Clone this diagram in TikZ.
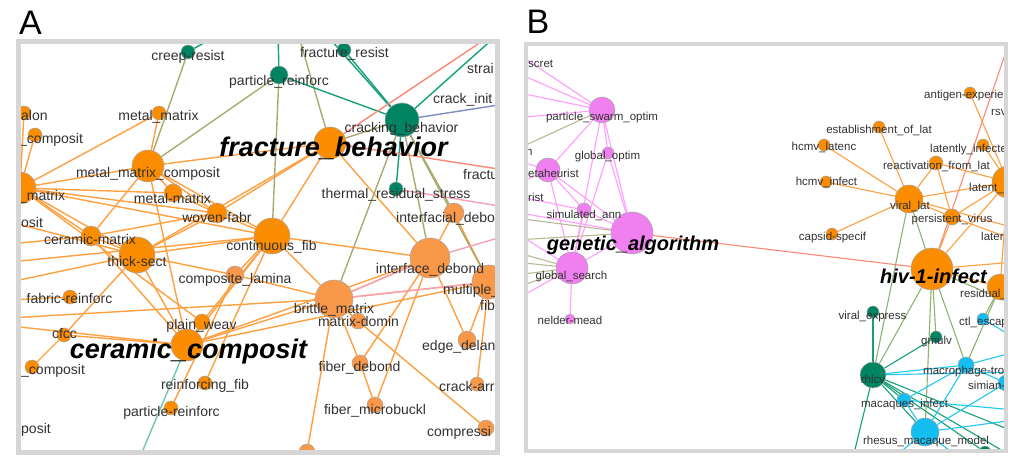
\documentclass[tikz,border=0pt]{standalone}
\usepackage{fontspec}
\setmainfont{Liberation Sans}
\usetikzlibrary{backgrounds}

\definecolor{nodeorange}{RGB}{252,140,0}
\definecolor{nodelight}{RGB}{248,152,72}
\definecolor{nodegreen}{RGB}{0,132,98}
\definecolor{nodepink}{RGB}{240,128,240}
\definecolor{nodecyan}{RGB}{20,190,240}
\definecolor{edgeorange}{RGB}{255,160,65}
\definecolor{edgeolive}{RGB}{170,170,112}
\definecolor{edgeteal}{RGB}{22,160,122}
\definecolor{edgesalmon}{RGB}{250,138,118}
\definecolor{edgepink}{RGB}{246,160,182}
\definecolor{edgeblue}{RGB}{125,140,190}
\definecolor{edgemagenta}{RGB}{255,158,255}
\definecolor{edgegray}{RGB}{185,185,150}
\definecolor{edgegreen}{RGB}{140,180,110}
\definecolor{edgecyan}{RGB}{34,200,240}
\definecolor{framegray}{RGB}{214,214,214}
\definecolor{labelgray}{RGB}{50,50,50}

\tikzset{
  dot/.style={circle, draw=black!35, line width=.5pt, inner sep=0pt},
  onode/.style={dot, fill=nodeorange},
  lnode/.style={dot, fill=nodelight},
  gnode/.style={dot, fill=nodegreen},
  mnode/.style={dot, fill=nodepink},
  cnode/.style={dot, fill=nodecyan},
  oedge/.style={draw=edgeorange, line width=1.4pt},
  gedge/.style={draw=edgeolive, line width=1.4pt},
  tedge/.style={draw=edgeteal, line width=1.4pt},
  sedge/.style={draw=edgesalmon, line width=1.4pt},
  pedge/.style={draw=edgepink, line width=1.4pt},
  bedge/.style={draw=edgeblue, line width=1.4pt},
  medge/.style={draw=edgemagenta, line width=1.1pt},
  yedge/.style={draw=edgegray, line width=1.1pt},
  vedge/.style={draw=edgegreen, line width=1.1pt},
  cedge/.style={draw=edgecyan, line width=1.1pt},
  tA/.style={text=labelgray, inner sep=0pt, text height=10pt, text depth=3pt,
    font=\fontsize{14pt}{16pt}\selectfont},
  tB/.style={text=labelgray, inner sep=0pt, text height=8pt, text depth=2.5pt,
    font=\fontsize{11.5pt}{13pt}\selectfont},
  bigA/.style={text=black, inner sep=0pt, text height=17pt, text depth=5pt,
    font=\fontsize{27pt}{30pt}\selectfont\bfseries\itshape},
  bigB/.style={text=black, inner sep=0pt, text height=14pt, text depth=4pt,
    font=\fontsize{20pt}{22pt}\selectfont\bfseries\itshape},
  panel/.style={font=\fontsize{34pt}{36pt}\selectfont, inner sep=0pt}
}

\begin{document}
\begin{tikzpicture}[x=1pt,y=-1pt]
\useasboundingbox (0,0) rectangle (1017,465);

% panel letters
\node[panel] (pa) at (30.5,22.5) {A};
\node[panel] (pb) at (538,22) {B};

%%%%%%%%%%%%%%%% panel A
\begin{scope}
\clip (21,45) rectangle (495,450);
\node[gnode, minimum size=14] (crp) at (188,52) {};
\node[onode, minimum size=14] (mm1) at (159,113) {};
\node[onode, minimum size=14] (aln) at (24,113) {};
\node[onode, minimum size=14] (cp1) at (35,135) {};
\node[onode, minimum size=32] (mmc) at (148,166) {};
\node[onode, minimum size=32] (lmx) at (20,188) {};
\node[onode, minimum size=18] (mm2) at (173,193) {};
\node[onode, minimum size=20] (wvf) at (217,213) {};
\node[onode, minimum size=20] (cmx) at (91,236) {};
\node[onode, minimum size=36] (tks) at (137,255) {};
\node[onode, minimum size=36] (cfb) at (272,236) {};
\node[lnode, minimum size=18] (clm) at (235,275) {};
\node[onode, minimum size=14] (frr) at (70,297) {};
\node[onode, minimum size=16] (pwv) at (202,322) {};
\node[onode, minimum size=14] (cfc) at (64,335) {};
\node[onode, minimum size=32] (ccm) at (187,345) {};
\node[onode, minimum size=14] (cp2) at (32,367) {};
\node[onode, minimum size=14] (rfb) at (205,383) {};
\node[onode, minimum size=14] (prf) at (171,408) {};
\node[lnode, minimum size=38] (btm) at (334,299) {};
\node[lnode, minimum size=16] (mdm) at (358,321) {};
\node[lnode, minimum size=16] (fbd) at (360,363) {};
\node[lnode, minimum size=16] (fmb) at (375,405) {};
\node[lnode, minimum size=16] (bot) at (307,452) {};
\node[lnode, minimum size=40] (ifd) at (430,258) {};
\node[lnode, minimum size=34] (mlt) at (489,282) {};
\node[lnode, minimum size=18] (edl) at (467,340) {};
\node[lnode, minimum size=14] (cra) at (477,384) {};
\node[lnode, minimum size=16] (cps) at (486,428) {};
\node[lnode, minimum size=20] (ifb) at (454,213) {};
\node[gnode, minimum size=14] (trs) at (396,189) {};
\node[gnode, minimum size=34] (crb) at (402,120) {};
\node[onode, minimum size=32] (frb) at (330,143) {};
\node[gnode, minimum size=14] (fre) at (344,50) {};
\node[gnode, minimum size=18] (pri) at (279,75) {};

\coordinate (tA1) at (216,36);
\coordinate (tA2) at (278,30);
\coordinate (tA3) at (297,30);
\coordinate (tA4) at (322,30);
\coordinate (tA5) at (496,36);
\coordinate (tA6) at (490,36);
\coordinate (rA1) at (505,104);
\coordinate (rA2) at (505,170);
\coordinate (rA3) at (505,207);
\coordinate (rA4) at (505,236);
\coordinate (lA1) at (10,222);
\coordinate (lA2) at (10,244);
\coordinate (lA3) at (10,262);
\coordinate (lA4) at (10,282);
\coordinate (lA5) at (10,300);
\coordinate (lA6) at (10,326);
\coordinate (lA7) at (10,318);
\coordinate (bA1) at (138,462);

\begin{pgfonlayer}{background}
\fill[white] (0,0) rectangle (1017,465);
\begin{scope}
\clip (21,45) rectangle (495,450);
\foreach \a/\b in {mm1/lmx, mm1/mmc, aln/lmx, cp1/lmx, mmc/frb, mmc/lmx, mmc/mm2,
    mmc/wvf, mmc/cmx, mmc/ccm, mmc/cfb, lmx/mm2, lmx/wvf, lmx/cmx, lmx/tks, lmx/cfb,
    lmx/pwv, cmx/tks, cmx/ccm, cmx/wvf, tks/wvf, tks/cfb, tks/clm, tks/ccm, tks/cfc,
    tks/frb, cfc/cp2, cfc/ccm, cfb/frb, cfb/wvf, cfb/pwv, cfb/ccm, cfb/btm, cfb/clm,
    cfb/ifd, wvf/frb, mm2/wvf, clm/btm, pwv/ccm, ccm/btm, ccm/ifd, ccm/mlt, rfb/cfb,
    prf/clm, btm/ifd, btm/mlt, btm/fbd, btm/bot, btm/mdm, mdm/cps, ifd/fbd, ifd/fmb,
    ifd/edl, ifd/ifb, frb/ifd, fbd/fmb, mlt/edl, mlt/cra, ifb/mlt, lA1/tks, lA2/cmx,
    lA3/cfb, lA4/tks, lA5/frr, lA6/ccm, lA7/btm}
  \draw[oedge] (\a) -- (\b);
\foreach \a/\b in {crp/mmc, pri/mmc, pri/cfb, tA3/frb, frb/crb, crb/btm, crb/ifd,
    crb/ifb, crb/mlt}
  \draw[gedge] (\a) -- (\b);
\foreach \a/\b in {crp/tA1, pri/tA2, pri/crb, fre/crb, tA4/crb, crb/tA5, crb/trs}
  \draw[tedge] (\a) -- (\b);
\draw[tedge, draw=edgeteal!60] (ccm) -- (bA1);
\draw[sedge] (frb) -- (tA6);
\draw[sedge] (frb) -- (rA2);
\foreach \a/\b in {trs/rA3, ifd/rA4, btm/ifd, btm/mlt}
  \draw[pedge] (\a) -- (\b);
\draw[bedge] (crb) -- (rA1);
\end{scope}
\end{pgfonlayer}

% labels A
\node[tA] (l-crp) at (188,57) {creep-resist};
\node[tA] (l-mm1) at (158.5,117) {metal\_matrix};
\node[tA, anchor=west] (l-aln) at (21,117) {alon};
\node[tA, anchor=west] (l-cp1) at (19,140) {\_composit};
\node[tA] (l-mmc) at (148,174) {metal\_matrix\_composit};
\node[tA, anchor=west] (l-lmx) at (19,197) {\_matrix};
\node[tA] (l-mm2) at (172.5,200) {metal-matrix};
\node[tA] (l-wvf) at (217,219) {woven-fabr};
\node[tA, anchor=west] (l-os1) at (21,224) {osit};
\node[tA] (l-cmx) at (90,241) {ceramic-matrix};
\node[tA] (l-tks) at (137,263) {thick-sect};
\node[tA] (l-cfb) at (271.5,247) {continuous\_fib};
\node[tA] (l-clm) at (235,280) {composite\_lamina};
\node[tA] (l-frr) at (69.5,300) {fabric-reinforc};
\node[tA] (l-pwv) at (201.5,326) {plain\_weav};
\node[tA] (l-cfc) at (64.5,335) {cfcc};
\node[tA, anchor=west] (l-cp2) at (21,371) {\_composit};
\node[tA] (l-rfb) at (205,386) {reinforcing\_fib};
\node[tA] (l-prf) at (171.5,413) {particle-reinforc};
\node[tA, anchor=west] (l-os2) at (21,430) {posit};
\node[tA] (l-btm) at (334,310) {brittle\_matrix};
\node[tA] (l-mdm) at (358.5,323) {matrix-domin};
\node[tA] (l-fbd) at (359.5,368) {fiber\_debond};
\node[tA] (l-fmb) at (375,411) {fiber\_microbuckl};
\node[tA] (l-ifd) at (430,270) {interface\_debond};
\node[tA, anchor=west] (l-mlt) at (443,291) {multiple\_};
\node[tA, anchor=west] (l-fib) at (480,307) {fib};
\node[tA, anchor=west] (l-edl) at (422,347) {edge\_delan};
\node[tA, anchor=west] (l-cra) at (439,388) {crack-arr};
\node[tA, anchor=west] (l-cps) at (427,433) {compressi};
\node[tA, anchor=west] (l-ifb) at (396,219) {interfacial\_debo};
\node[tA] (l-trs) at (396,195) {thermal\_residual\_stress};
\node[tA, anchor=west] (l-frc) at (463,176) {fractu};
\node[tA] (l-crb) at (401.5,129) {cracking\_behavior};
\node[tA, anchor=west] (l-cri) at (433,100) {crack\_init};
\node[tA, anchor=west] (l-str) at (467,70) {strai};
\node[tA] (l-pri) at (279,82) {particle\_reinforc};
\node[tA] (l-fre) at (344.5,54) {fracture\_resist};
\node[bigA] (l-frb) at (333.5,151) {fracture\_behavior};
\node[bigA] (l-ccm) at (188.5,352.5) {ceramic\_composit};
\end{scope}
\draw[framegray, line width=5pt] (18.5,42) rectangle (497.5,452.5);

%%%%%%%%%%%%%%%% panel B
\begin{scope}
\clip (528,46) rectangle (1004,449);
\node[mnode, minimum size=26] (psw) at (602,110) {};
\node[mnode, minimum size=12] (gop) at (608,153) {};
\node[mnode, minimum size=24] (mth) at (548,170) {};
\node[mnode, minimum size=14] (sma) at (584,210) {};
\node[mnode, minimum size=42] (gal) at (632,233) {};
\node[mnode, minimum size=32] (gls) at (572,268) {};
\node[mnode, minimum size=10] (ndm) at (570,319) {};
\node[onode, minimum size=12] (ant) at (970,93) {};
\node[onode, minimum size=12] (est) at (879,127) {};
\node[onode, minimum size=12] (hcl) at (824,145) {};
\node[onode, minimum size=12] (lti) at (983,145) {};
\node[onode, minimum size=14] (rfl) at (936,163) {};
\node[onode, minimum size=12] (hci) at (826,182) {};
\node[onode, minimum size=32] (ltn) at (1008,182) {};
\node[onode, minimum size=28] (vlt) at (909,199) {};
\node[onode, minimum size=16] (psv) at (952,217) {};
\node[onode, minimum size=12] (csp) at (832,234) {};
\node[onode, minimum size=42] (hiv) at (932,269) {};
\node[onode, minimum size=26] (rsd) at (1000,287) {};
\node[gnode, minimum size=12] (vex) at (873,312) {};
\node[gnode, minimum size=12] (gmv) at (936,337) {};
\node[gnode, minimum size=26] (rlc) at (873,375) {};
\node[gnode, minimum size=12] (tlb) at (985,452) {};
\node[cnode, minimum size=12] (ctl) at (983,319) {};
\node[cnode, minimum size=16] (mtr) at (966,365) {};
\node[cnode, minimum size=16] (smn) at (1006,383) {};
\node[cnode, minimum size=14] (mqi) at (904,400) {};
\node[cnode, minimum size=28] (rmm) at (925,432) {};

\coordinate (lB1) at (515,52);
\coordinate (lB2) at (515,72);
\coordinate (lB3) at (515,92);
\coordinate (lB4) at (515,118);
\coordinate (lB5) at (515,160);
\coordinate (lB6) at (515,185);
\coordinate (lB7) at (515,232);
\coordinate (lB8) at (515,300);
\coordinate (lB9) at (515,212);
\coordinate (lB10) at (515,196);
\coordinate (lB11) at (515,150);
\coordinate (lB12) at (515,218);
\coordinate (lB13) at (515,240);
\coordinate (lB14) at (515,252);
\coordinate (lB15) at (515,262);
\coordinate (lB16) at (515,275);
\coordinate (lB17) at (515,288);
\coordinate (tB1) at (1012,34);
\coordinate (rB1) at (1015,240);
\coordinate (rB2) at (1015,228);
\coordinate (rB3) at (1015,262);
\coordinate (rB4) at (1015,305);
\coordinate (rB5) at (1015,432);
\coordinate (rB6) at (1015,458);
\coordinate (rB7) at (1015,372);
\coordinate (rB8) at (1015,410);
\coordinate (rB9) at (1015,420);
\coordinate (rB10) at (1015,338);
\coordinate (rB11) at (1015,352);
\coordinate (bB1) at (852,462);
\coordinate (bB2) at (888,462);
\coordinate (bB3) at (965,462);

\begin{pgfonlayer}{background}
\begin{scope}
\clip (528,46) rectangle (1004,449);
\foreach \a/\b in {psw/lB1, psw/lB2, psw/lB3, psw/lB4, psw/mth, psw/gal, psw/gls,
    psw/gop, gop/gal, gop/gls, mth/sma, mth/gal, mth/gls, mth/lB5, mth/lB6, sma/gal,
    sma/gls, gal/gls, gls/ndm, lB7/gls, lB8/gls, lB9/gal, lB10/sma}
  \draw[medge] (\a) -- (\b);
\foreach \a/\b in {psw/lB11, gal/lB12, gal/lB13, gls/lB14, gls/lB15, gls/lB16, gls/lB17}
  \draw[yedge] (\a) -- (\b);
\draw[sedge, line width=1.1pt] (gal) -- (hiv);
\draw[sedge, line width=1.1pt] (tB1) -- (hiv);
\foreach \a/\b in {est/vlt, hcl/vlt, hci/vlt, rfl/vlt, vlt/ltn, vlt/psv, rfl/ltn,
    lti/ltn, ant/ltn, vlt/csp, psv/hiv, psv/ltn, hiv/ltn, hiv/rsd, psv/rB1, rfl/psv,
    vlt/rB2, hiv/rB3, rsd/ltn}
  \draw[oedge, line width=1.1pt] (\a) -- (\b);
\foreach \a/\b in {vlt/hiv, vlt/rlc, hiv/rlc, hiv/gmv, hiv/rmm, hiv/mtr, hiv/rB4,
    rsd/mtr, rsd/ctl}
  \draw[vedge] (\a) -- (\b);
\foreach \a/\b in {vex/rlc, gmv/rlc, rlc/bB1, rlc/rmm, rlc/mqi, rlc/rB5, rlc/rB6,
    rlc/tlb}
  \draw[tedge, line width=1.1pt] (\a) -- (\b);
\foreach \a/\b in {rlc/mtr, rlc/rB7, mqi/rmm, mqi/mtr, mqi/rB8, rmm/mtr, rmm/rB9,
    rmm/smn, ctl/rB10, mtr/rB11, rmm/bB2, rmm/bB3, mtr/smn}
  \draw[cedge] (\a) -- (\b);
\end{scope}
\end{pgfonlayer}

% labels B
\node[tB, anchor=west] (l-scr) at (528,65) {scret};
\node[tB] (l-psw) at (602,118) {particle\_swarm\_optim};
\node[tB, anchor=west] (l-n) at (526,153) {n};
\node[tB] (l-gop) at (607.5,157) {global\_optim};
\node[tB, anchor=west] (l-mth) at (528,175) {etaheurist};
\node[tB, anchor=west] (l-rst) at (528,199) {rist};
\node[tB] (l-sma) at (584,216) {simulated\_ann};
\node[tB] (l-gls) at (571.5,277) {global\_search};
\node[tB] (l-ndm) at (570,322) {nelder-mead};
\node[tB, anchor=west] (l-ant) at (924,96) {antigen-experie};
\node[tB, anchor=west] (l-rsv) at (991,113) {rsv};
\node[tB] (l-est) at (879,131) {establishment\_of\_lat};
\node[tB] (l-hcl) at (824,148) {hcmv\_latenc};
\node[tB, anchor=west] (l-lti) at (930,150) {latently\_infecte};
\node[tB] (l-rfl) at (936.5,167) {reactivation\_from\_lat};
\node[tB] (l-hci) at (826.5,183) {hcmv\_infect};
\node[tB, anchor=west] (l-ltn) at (969,189) {latent\_};
\node[tB] (l-vlt) at (910,207) {viral\_lat};
\node[tB] (l-psv) at (952,220) {persistent\_virus};
\node[tB] (l-csp) at (832.5,238) {capsid-specif};
\node[tB, anchor=west] (l-ltr) at (981,238) {later};
\node[tB, anchor=west] (l-rsd) at (960,295) {residual\_};
\node[tB] (l-vex) at (872.5,317) {viral\_express};
\node[tB, anchor=west] (l-ctl) at (959,323) {ctl\_escap};
\node[tB] (l-gmv) at (936.5,342) {gmulv};
\node[tB, anchor=west] (l-mtr) at (923,372) {macrophage-tro};
\node[tB] (l-rlc) at (873,381) {rhlcv};
\node[tB, anchor=west] (l-smn) at (968,387) {simian-};
\node[tB] (l-mqi) at (904.5,405) {macaques\_infect};
\node[tB] (l-rmm) at (926,442) {rhesus\_macaque\_model};
\node[bigB] (l-gal) at (633,246) {genetic\_algorithm};
\node[bigB] (l-hiv) at (933.5,278) {hiv-1-infect};
\end{scope}
\draw[framegray, line width=4pt] (526,44) rectangle (1005.5,451);
\end{tikzpicture}
\end{document}
